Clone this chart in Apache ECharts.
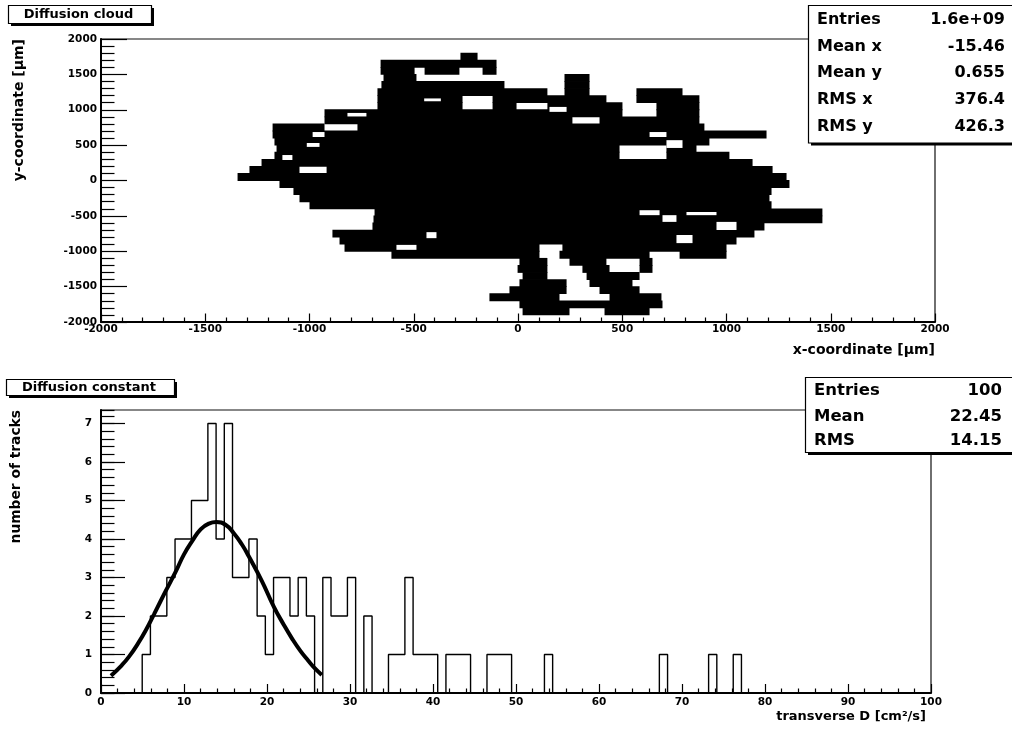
<!DOCTYPE html>
<html>
<head>
<meta charset="utf-8">
<script src="https://cdn.jsdelivr.net/npm/echarts@6/dist/echarts.min.js"></script>
<style>html,body{margin:0;padding:0;background:#fff}#c{width:1012px;height:731px}</style>
</head>
<body>
<div id="c"></div>
<script>
// ---------------- data ----------------
// Diffusion cloud: filled cells read row by row (row = [y lower edge in µm, [[x from, x to], ...]])
const cloudRowStep = 100;
const cloudRows = [
  [1700, [[-276, -194]]],
  [1600, [[-659, -103]]],
  [1500, [[-659, -496], [-448, -281], [-170, -103]]],
  [1400, [[-645, -487], [223, 343]]],
  [1300, [[-655, -65], [223, 343]]],
  [1200, [[-674, 141], [223, 343], [568, 789]]],
  [1100, [[-674, -266], [-122, 424], [568, 870]]],
  [1000, [[-674, -266], [-122, -7], [141, 501], [664, 870]]],
  [900, [[-928, 501], [664, 870]]],
  [800, [[-928, 261], [391, 870]]],
  [700, [[-1177, -928], [-770, 894]]],
  [600, [[-1177, 1192]]],
  [500, [[-1168, 918]]],
  [400, [[-1158, 487], [712, 856]]],
  [300, [[-1168, 487], [712, 1014]]],
  [200, [[-1230, 1125]]],
  [100, [[-1288, -1048], [-918, 1221]]],
  [0, [[-1345, 1288]]],
  [-100, [[-1144, 1302]]],
  [-200, [[-1077, 1216]]],
  [-300, [[-1048, 1206]]],
  [-400, [[-1000, 1216]]],
  [-500, [[-688, 1460]]],
  [-600, [[-693, 1460]]],
  [-700, [[-698, 1182]]],
  [-800, [[-890, 1134]]],
  [-900, [[-856, 1048]]],
  [-1000, [[-832, 103], [213, 1000]]],
  [-1100, [[-607, 103], [199, 631], [775, 1000]]],
  [-1200, [[7, 141], [247, 424], [583, 645]]],
  [-1300, [[-2, 141], [309, 439], [583, 645]]],
  [-1400, [[22, 141], [329, 583]]],
  [-1500, [[7, 233], [343, 549]]],
  [-1600, [[-41, 233], [391, 583]]],
  [-1700, [[-137, 199], [439, 688]]],
  [-1800, [[7, 693]]],
  [-1900, [[22, 247], [415, 631]]]
];
// Empty pockets inside the cloud: [x from, x to, y from, y to] in µm
const cloudHoles = [
  [-818, -727, 905, 955],
  [-985, -928, 615, 685],
  [-450, -370, 1120, 1160],
  [583, 679, -490, -420],
  [808, 952, -490, -445],
  [693, 760, -585, -490],
  [952, 1048, -700, -585],
  [760, 837, -885, -770],
  [151, 233, 970, 1040],
  [631, 712, 615, 685],
  [712, 789, 460, 570],
  [-439, -391, -815, -730],
  [-1013, -952, 475, 530],
  [-1130, -1082, 290, 360],
  [-583, -487, -980, -910]
];

// Diffusion constant histogram: 100 bins
const histStart = 0.02;
const histBinWidth = 0.989;
const histCounts = [
  0,0,0,0,0,1,2,2,3,4, 4,5,5,7,4,7,3,3,4,2,
  1,3,3,2,3,2,0,3,2,2, 3,0,2,0,0,1,1,3,1,1,
  1,0,1,1,1,0,0,1,1,1, 0,0,0,0,1,0,0,0,0,0,
  0,0,0,0,0,0,0,0,1,0, 0,0,0,0,1,0,0,1,0,0,
  0,0,0,0,0,0,0,0,0,0, 0,0,0,0,0,0,0,0,0,0
];

// Gaussian fit curve
const fitX = [1.2, 2.5, 3.4, 4.5, 5.4, 6.4, 7.8, 9.0, 10.0, 11.0, 12.0, 13.0, 13.9, 15.0, 16.0, 17.0, 17.8, 19.4, 20.8, 22.0, 23.0, 24.0, 25.0, 25.6, 26.6];
const fitY = [0.45, 0.72, 0.95, 1.3, 1.63, 2.05, 2.65, 3.15, 3.6, 3.95, 4.25, 4.4, 4.44, 4.37, 4.15, 3.85, 3.55, 2.9, 2.25, 1.78, 1.42, 1.1, 0.83, 0.68, 0.47];

const statsCloud = [['Entries', '1.6e+09'], ['Mean x', '-15.46'], ['Mean y', '0.655'], ['RMS x', '376.4'], ['RMS y', '426.3']];
const statsDiff = [['Entries', '100'], ['Mean', '22.45'], ['RMS', '14.15']];

const titleCloud = 'Diffusion cloud';
const titleDiff = 'Diffusion constant';
const xNameCloud = 'x-coordinate [\u03bcm]';
const yNameCloud = 'y-coordinate [\u03bcm]';
const xNameDiff = 'transverse D [cm\u00b2/s]';
const yNameDiff = 'number of tracks';

// ---------------- build ----------------
const cloudCells = [];
cloudRows.forEach(function (r) {
  r[1].forEach(function (iv) { cloudCells.push([iv[0], iv[1], r[0], r[0] + cloudRowStep]); });
});

const histLine = [];
histLine.push([histStart, 0]);
histCounts.forEach(function (c, i) {
  const lo = histStart + i * histBinWidth, hi = lo + histBinWidth;
  histLine.push([lo, c]);
  histLine.push([hi, c]);
});
histLine.push([histStart + histCounts.length * histBinWidth, 0]);

const fitData = fitX.map(function (x, i) { return [x, fitY[i]]; });

const FONT = '"DejaVu Sans", "Liberation Sans", sans-serif';
const black = '#000';

function labelStyle(size, margin) {
  return { show: true, color: black, fontFamily: FONT, fontWeight: 'bold', fontSize: size, margin: margin,
           formatter: function (v) { return String(Math.round(v * 1000) / 1000); } };
}

function rectItem(fill, pad) {
  return function (params, api) {
    const a = api.coord([api.value(0), api.value(3)]);
    const b = api.coord([api.value(1), api.value(2)]);
    return { type: 'rect', shape: { x: a[0], y: a[1] - pad, width: b[0] - a[0], height: b[1] - a[1] + 2 * pad }, style: { fill: fill } };
  };
}

function titleBox(x, y, w, h, text, size) {
  return [
    { type: 'rect', z: 100, shape: { x: x + 2.5, y: y + 2.5, width: w, height: h }, style: { fill: black } },
    { type: 'rect', z: 101, shape: { x: x, y: y, width: w, height: h }, style: { fill: '#fff', stroke: black, lineWidth: 1.2 } },
    { type: 'text', z: 102, x: x + w / 2 - 1.5, y: y + h / 2 + 0.5, style: { text: text, align: 'center', verticalAlign: 'middle', font: 'bold ' + size + 'px ' + FONT, fill: black } }
  ];
}

function statBox(x, y, w, h, rows, rowY, lx, vx, size) {
  const els = [
    { type: 'rect', z: 100, shape: { x: x + 2.5, y: y + 2.5, width: w, height: h }, style: { fill: black } },
    { type: 'rect', z: 101, shape: { x: x, y: y, width: w, height: h }, style: { fill: '#fff', stroke: black, lineWidth: 1.2 } }
  ];
  rows.forEach(function (r, i) {
    els.push({ type: 'text', z: 102, x: lx, y: rowY[i], style: { text: r[0], align: 'left', verticalAlign: 'middle', font: 'bold ' + size + 'px ' + FONT, fill: black } });
    els.push({ type: 'text', z: 102, x: vx, y: rowY[i], style: { text: r[1], align: 'right', verticalAlign: 'middle', font: 'bold ' + size + 'px ' + FONT, fill: black } });
  });
  return els;
}

const graphics = []
  .concat(titleBox(8.5, 5.5, 143, 18, titleCloud, 13))
  .concat(titleBox(6.5, 379.5, 168, 16, titleDiff, 13))
  .concat(statBox(808.5, 5.5, 220, 137.5, statsCloud, [20, 46.5, 73, 100, 126.5], 817, 1005, 16))
  .concat(statBox(805.5, 377.5, 220, 75, statsDiff, [391, 417, 441], 814, 1002, 16.5))
  .concat([
    { type: 'text', z: 50, x: 935, y: 350, style: { text: xNameCloud, align: 'right', verticalAlign: 'middle', font: 'bold 14px ' + FONT, fill: black } },
    { type: 'text', z: 50, x: 19, y: 39, rotation: Math.PI / 2, style: { text: yNameCloud, align: 'right', verticalAlign: 'middle', font: 'bold 14px ' + FONT, fill: black } },
    { type: 'text', z: 50, x: 926, y: 717, style: { text: xNameDiff, align: 'right', verticalAlign: 'middle', font: 'bold 13px ' + FONT, fill: black } },
    { type: 'text', z: 50, x: 16, y: 410, rotation: Math.PI / 2, style: { text: yNameDiff, align: 'right', verticalAlign: 'middle', font: 'bold 13.8px ' + FONT, fill: black } }
  ]);

const chart = echarts.init(document.getElementById('c'), null, { renderer: 'canvas' });
chart.setOption({
  animation: false,
  backgroundColor: '#fff',
  grid: [
    { left: 101, top: 39, right: 77, bottom: 409, show: true, borderColor: '#111', borderWidth: 1.2, backgroundColor: 'transparent' },
    { left: 101, top: 410, right: 81, bottom: 38, show: true, borderColor: '#111', borderWidth: 1.2, backgroundColor: 'transparent' }
  ],
  xAxis: [
    { type: 'value', gridIndex: 0, min: -2000, max: 2000, interval: 500, position: 'bottom',
      axisLine: { show: true, onZero: false, lineStyle: { color: black, width: 2 } },
      axisTick: { show: true, inside: true, length: 8.5, lineStyle: { color: black, width: 1.2 } },
      minorTick: { show: true, splitNumber: 5, length: 4.5, lineStyle: { color: black, width: 1.2 } },
      splitLine: { show: false }, axisLabel: labelStyle(10.5, 2) },
    { type: 'value', gridIndex: 1, min: 0, max: 100, interval: 10, position: 'bottom',
      axisLine: { show: true, onZero: false, lineStyle: { color: black, width: 2 } },
      axisTick: { show: true, inside: true, length: 9, lineStyle: { color: black, width: 1.2 } },
      minorTick: { show: true, splitNumber: 5, length: 4.5, lineStyle: { color: black, width: 1.2 } },
      splitLine: { show: false }, axisLabel: labelStyle(10.5, 4) }
  ],
  yAxis: [
    { type: 'value', gridIndex: 0, min: -2000, max: 2000, interval: 500, position: 'left',
      axisLine: { show: true, onZero: false, lineStyle: { color: black, width: 2 } },
      axisTick: { show: true, inside: true, length: 26, lineStyle: { color: black, width: 1.2 } },
      minorTick: { show: true, splitNumber: 5, length: 13.5, lineStyle: { color: black, width: 1.2 } },
      splitLine: { show: false }, axisLabel: labelStyle(10.5, 4) },
    { type: 'value', gridIndex: 1, min: 0, max: 7.35, interval: 0.2, position: 'left',
      axisLine: { show: false, onZero: false },
      axisTick: { show: true, inside: true, length: 13.5, lineStyle: { color: black, width: 1.2 } },
      splitLine: { show: false }, axisLabel: { show: false } },
    { type: 'value', gridIndex: 1, min: 0, max: 7.35, interval: 1, position: 'left',
      axisLine: { show: true, onZero: false, lineStyle: { color: black, width: 2 } },
      axisTick: { show: true, inside: true, length: 24, lineStyle: { color: black, width: 1.2 } },
      splitLine: { show: false },
      axisLabel: Object.assign(labelStyle(10.5, 9), { showMaxLabel: false }) }
  ],
  series: [
    { type: 'custom', xAxisIndex: 0, yAxisIndex: 0, clip: true, silent: true, z: 2,
      encode: { x: [0, 1], y: [2, 3] },
      data: cloudCells, renderItem: rectItem(black, 0.4) },
    { type: 'custom', xAxisIndex: 0, yAxisIndex: 0, clip: true, silent: true, z: 3,
      encode: { x: [0, 1], y: [2, 3] },
      data: cloudHoles, renderItem: rectItem('#fff', 0) },
    { type: 'line', xAxisIndex: 1, yAxisIndex: 2, data: histLine, symbol: 'none', silent: true,
      lineStyle: { color: black, width: 1.4 }, z: 3 },
    { type: 'line', xAxisIndex: 1, yAxisIndex: 2, data: fitData, symbol: 'none', smooth: true, silent: true,
      lineStyle: { color: black, width: 4 }, z: 4 }
  ],
  graphic: graphics
});
</script>
</body>
</html>
